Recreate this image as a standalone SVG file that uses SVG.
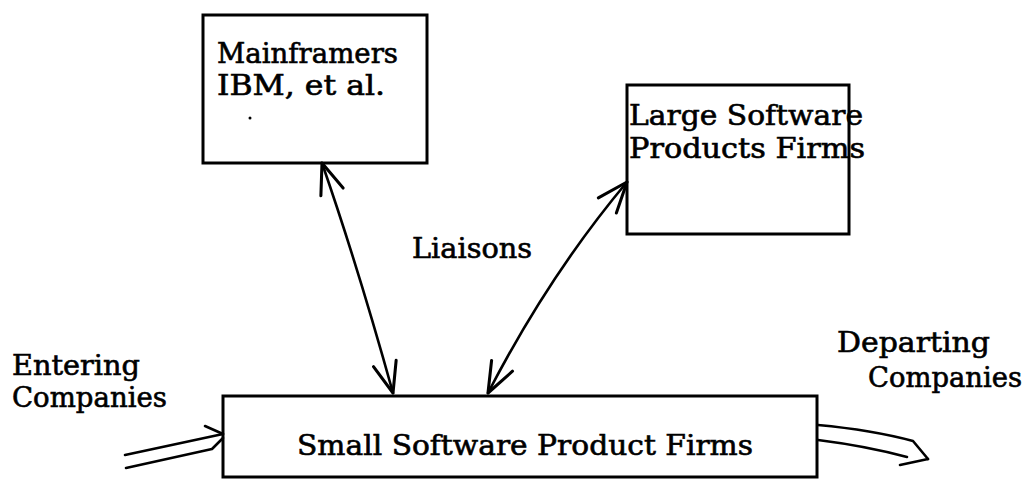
<svg xmlns="http://www.w3.org/2000/svg" width="1026" height="482" viewBox="0 0 1026 482">
  <style>
    .box { fill: none; stroke: #000; stroke-width: 3; }
    .lbl { font-family: "DejaVu Serif", "Liberation Serif", serif; font-size: 27px; fill: #000; stroke: #000; stroke-width: 0.6; }
    .wire { fill: none; stroke: #000; stroke-width: 2.6; stroke-linecap: round; stroke-linejoin: round; }
  </style>
  <defs>
    <marker id="vhead" markerUnits="userSpaceOnUse" markerWidth="40" markerHeight="40"
            viewBox="-30 -15 34 30" refX="0" refY="0" orient="auto-start-reverse">
      <path d="M -26 -10 L 0 0 L -26 10" fill="none" stroke="#000" stroke-width="2.6" stroke-linecap="round" stroke-linejoin="round"/>
    </marker>
  </defs>

  <rect width="1026" height="482" fill="#fff"/>

  <g id="mainframers">
    <rect class="box" x="203" y="15" width="224" height="148"/>
    <text class="lbl" x="217" y="63" textLength="181" lengthAdjust="spacingAndGlyphs">Mainframers</text>
    <text class="lbl" x="217" y="95" textLength="168" lengthAdjust="spacingAndGlyphs">IBM, et al.</text>
    <circle cx="250" cy="118" r="1.5" fill="#000"/>
  </g>

  <g id="large-firms">
    <rect class="box" x="627" y="85" width="222" height="149"/>
    <text class="lbl" x="629" y="125" textLength="234" lengthAdjust="spacingAndGlyphs">Large Software</text>
    <text class="lbl" x="629" y="158" textLength="236" lengthAdjust="spacingAndGlyphs">Products Firms</text>
  </g>

  <g id="small-firms">
    <rect class="box" x="223" y="396" width="594" height="81"/>
    <text class="lbl" x="297" y="455" textLength="456" lengthAdjust="spacingAndGlyphs">Small Software Product Firms</text>
  </g>

  <g id="liaisons-label">
    <text class="lbl" x="412" y="258" textLength="120" lengthAdjust="spacingAndGlyphs">Liaisons</text>
  </g>

  <g id="entering-label">
    <text class="lbl" x="12" y="375" textLength="128" lengthAdjust="spacingAndGlyphs">Entering</text>
    <text class="lbl" x="12" y="407" textLength="155" lengthAdjust="spacingAndGlyphs">Companies</text>
  </g>

  <g id="departing-label">
    <text class="lbl" x="837" y="352" textLength="153" lengthAdjust="spacingAndGlyphs">Departing</text>
    <text class="lbl" x="868" y="387" textLength="154" lengthAdjust="spacingAndGlyphs">Companies</text>
  </g>

  <g id="connectors">
    <!-- two-way liaison links -->
    <path class="wire" d="M 322 163 Q 358 267 393 393" marker-start="url(#vhead)" marker-end="url(#vhead)"/>
    <path class="wire" d="M 488 393 Q 549 275 627 182" marker-start="url(#vhead)" marker-end="url(#vhead)"/>
    <!-- hollow inflow arrow -->
    <path class="wire" d="M 125 455 L 223 434"/>
    <path class="wire" d="M 205 426 L 223 434"/>
    <path class="wire" d="M 126 468 L 212 449 L 223 438"/>
    <!-- hollow outflow arrow -->
    <path class="wire" d="M 818 425 Q 872 430 913 441 L 928 459"/>
    <path class="wire" d="M 818 440 Q 866 446 907 457"/>
    <path class="wire" d="M 900 465 L 928 459"/>
  </g>
</svg>
